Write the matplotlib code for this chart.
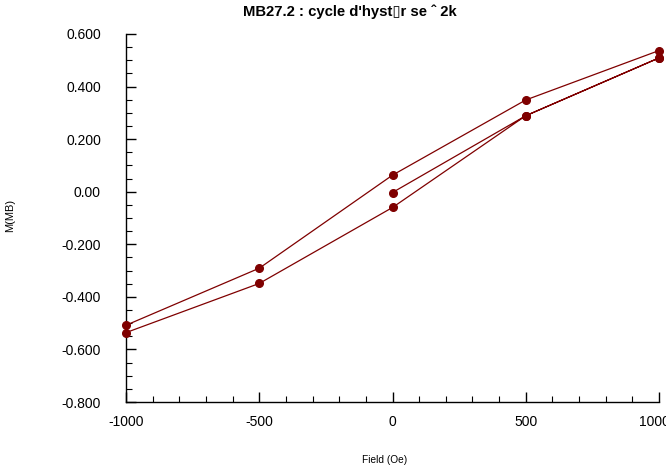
import matplotlib
matplotlib.use("Agg")
import matplotlib.pyplot as plt
import matplotlib.transforms as mtransforms
from matplotlib.ticker import MultipleLocator

plt.rcParams['font.family'] = ['Liberation Sans', 'DejaVu Sans']

field = [0, 500, 1000, 1000, 500, 0, -500, -1000, -1000, -500, 0, 500, 1000]
moment = [-0.003, 0.289, 0.509, 0.537, 0.349, 0.063, -0.291, -0.508, -0.536, -0.349, -0.060, 0.289, 0.509]

y_ticks = [0.6, 0.4, 0.2, 0.0, -0.2, -0.4, -0.6, -0.8]
y_labels = ["0.600", "0.400", "0.200", "0.00", "-0.200", "-0.400", "-0.600", "-0.800"]
x_ticks = [-1000, -500, 0, 500, 1000]
x_labels = ["-1000", "-500", "0", "500", "1000"]

W, H = 666, 470
fig = plt.figure(figsize=(W/100, H/100), dpi=100)
ax = fig.add_axes([126/W, 1-402/H, (659-126)/W, (402-34)/H])

color = "#7f0000"
ax.plot(field, moment, color=color, lw=0.9, marker='o', markersize=5.5,
        markerfacecolor=color, markeredgecolor=color, clip_on=False, zorder=3)

ax.set_xlim(-1000, 1000)
ax.set_ylim(-0.8, 0.6)
ax.set_xticks(x_ticks)
ax.set_xticklabels(x_labels)
ax.set_yticks(y_ticks)
ax.set_yticklabels(y_labels)
ax.xaxis.set_minor_locator(MultipleLocator(100))
ax.yaxis.set_minor_locator(MultipleLocator(0.05))

for s in ['top', 'right']:
    ax.spines[s].set_visible(False)
for s in ['left', 'bottom']:
    ax.spines[s].set_linewidth(1.0)
    ax.spines[s].set_color('black')

ax.tick_params(axis='both', which='major', direction='in', length=7, width=1, labelsize=10)
ax.tick_params(axis='both', which='minor', direction='in', length=4, width=0.8)
ax.tick_params(axis='y', which='major', pad=18)
ax.tick_params(axis='x', which='major', pad=9)

# nudge the last x tick label slightly left, as in the reference
last = ax.get_xticklabels()[-1]
last.set_transform(last.get_transform() + mtransforms.ScaledTranslation(-5/100, 0, fig.dpi_scale_trans))

fig.text(350/W, 1-12/H, "MB27.2 : cycle d'hyst\u25afr se \u02c6 2k", ha='center', va='center',
         fontsize=10.7, fontweight='bold')
fig.text(385/W, 1-460/H, "Field (Oe)", ha='center', va='center', fontsize=7.3)
fig.text(10/W, 1-215/H, "M(MB)", ha='center', va='center', fontsize=8, rotation=90)

fig.savefig("out.png", dpi=100)
